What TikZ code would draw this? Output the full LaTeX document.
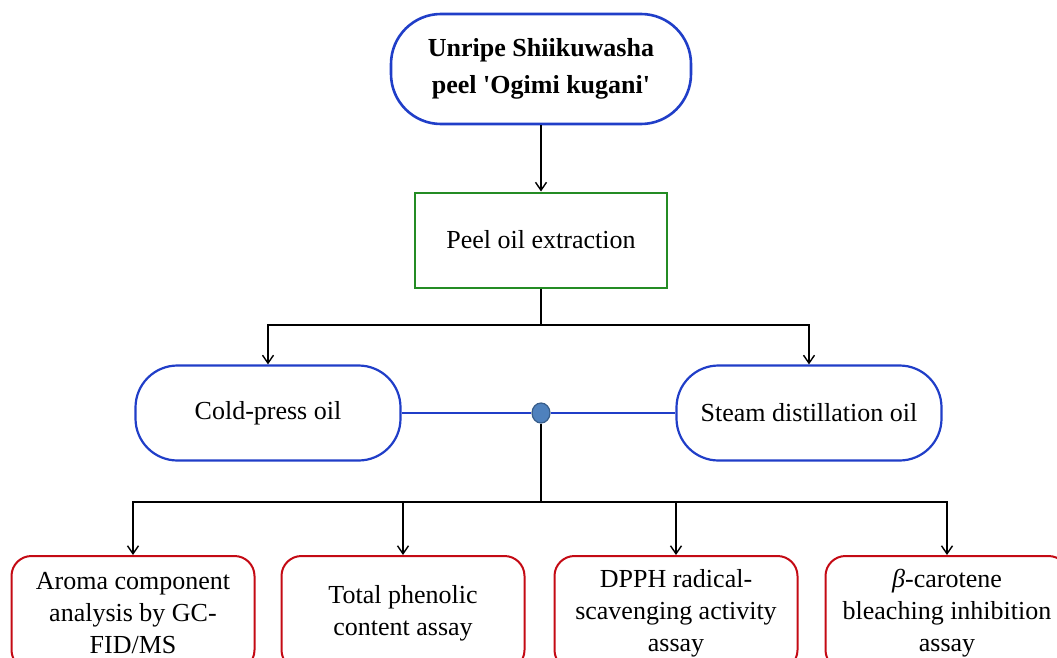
\documentclass[tikz,border=0pt]{standalone}
\usepackage{fontspec}
\setmainfont{Liberation Serif}
\usepackage{tikz}
\usetikzlibrary{shapes.geometric, arrows.meta}
\definecolor{shiiBlue}{RGB}{32, 62, 200}
\definecolor{shiiGreen}{RGB}{36, 140, 36}
\definecolor{shiiRed}{RGB}{196, 10, 20}
\definecolor{hubFill}{RGB}{79, 129, 189}
\definecolor{hubEdge}{RGB}{56, 93, 138}

\begin{document}
\begin{tikzpicture}[
  x=1pt, y=-1pt,
  every node/.style={font=\fontsize{26}{32}\selectfont, align=center},
  source/.style={
    rectangle, rounded corners=50pt,
    minimum width=300pt, minimum height=110pt,
    draw=shiiBlue, line width=2.6pt, font=\fontsize{26}{37}\selectfont\bfseries
  },
  process/.style={
    rectangle, minimum width=252pt, minimum height=95pt,
    draw=shiiGreen, line width=2pt
  },
  oil/.style={
    rectangle, rounded corners=42pt,
    minimum width=265pt, minimum height=95pt,
    draw=shiiBlue, line width=2.2pt
  },
  assay/.style={
    rectangle, rounded corners=20pt,
    minimum width=243pt, minimum height=114pt,
    draw=shiiRed, line width=2pt
  },
  hub/.style={
    ellipse, minimum width=18pt, minimum height=20pt, inner sep=0pt,
    fill=hubFill, draw=hubEdge, line width=1.2pt
  },
  link/.style={line width=1.4pt, black},
  oillink/.style={line width=1.6pt, shiiBlue},
  >={Straight Barb[length=8pt,width=11pt]}
]
\useasboundingbox (0,0) rectangle (1057,658);
\clip (0,0) rectangle (1057,658);

% source and extraction
\node[source] (peel) at (541,69) {Unripe Shiikuwasha\\peel \textquotesingle Ogimi kugani\textquotesingle};
\node[process] (extract) at (541,240) {Peel oil extraction};

% the two oils
\node[oil] (coldpress) at (268,413) {Cold-press oil};
\node[oil] (steam) at (809,413) {Steam distillation oil};
\node[hub] (hub) at (541,413) {};

% assays
\node[assay] (aroma) at (133,613) {Aroma component\\analysis by GC-\\FID/MS};
\node[assay] (phenolic) at (403,613) {Total phenolic\\content assay};
\node[assay] (dpph) at (676,613) {DPPH radical-\\scavenging activity\\assay};
\node[assay] (carotene) at (947,613) {\textit{β}-carotene\\bleaching inhibition\\assay};

\coordinate (split1) at (541,325);
\coordinate (split2) at (541,502);

\draw[->, link] (peel.south) -- (extract.north);
\draw[link] (extract.south) -- (split1);
\draw[->, link] (split1) -| (coldpress.north);
\draw[->, link] (split1) -| (steam.north);

\draw[oillink] (coldpress.east) -- (hub.west);
\draw[oillink] (hub.east) -- (steam.west);

\draw[link] (hub.south) -- (split2);
\draw[->, link] (split2) -| (aroma.north);
\draw[->, link] (split2) -| (phenolic.north);
\draw[->, link] (split2) -| (dpph.north);
\draw[->, link] (split2) -| (carotene.north);

\end{tikzpicture}
\end{document}
